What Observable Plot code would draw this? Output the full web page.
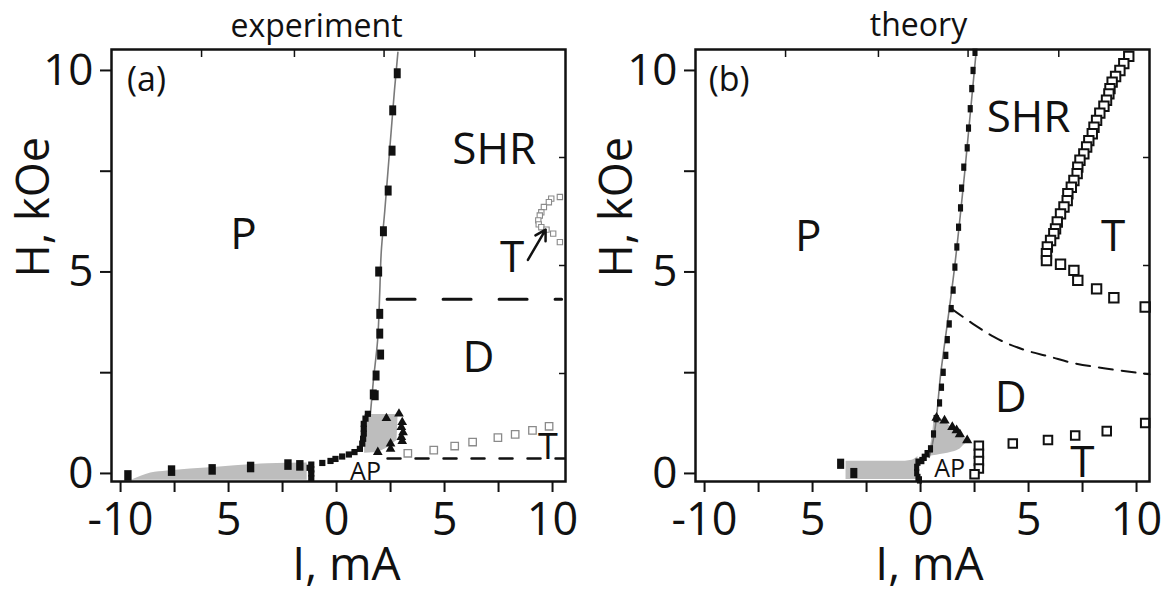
<!DOCTYPE html>
<html><head><meta charset="utf-8">
<script src="https://cdn.jsdelivr.net/npm/d3@7"></script>
<script src="https://cdn.jsdelivr.net/npm/@observablehq/plot@0.6"></script>
<style>
html,body{margin:0;padding:0;background:#fff;}
#wrap{position:relative;width:1167px;height:591px;overflow:hidden;background:#fff;}
#pa{position:absolute;left:0;top:0;}
#pb{position:absolute;left:584px;top:0;}
</style></head>
<body><div id="wrap"><div id="pa"></div><div id="pb"></div></div>
<script>
// ---------- axis ticks ----------
const xTickValues = [-10, -7.5, -5, -2.5, 0, 2.5, 5, 7.5, 10];
const xTickLabels = ["-10", "", "5", "", "0", "", "5", "", "10"];
const yTickValues = [0, 2.5, 5, 7.5, 10];
const yTickLabels = ["0", "", "5", "", "10"];
const topTickValues = [-6.25, -1.95, 2.2, 6.4];
const rightTickValues = [2.48, 5.16, 7.84];
const titles = ["experiment", "theory"];
const xLabel = "I, mA";
const yLabel = "H, kOe";

// ---------- panel (a): experiment ----------
const aLineI = [1.56, 1.70, 1.90, 2.00, 2.07, 2.23, 2.38, 2.53, 2.68, 2.84];
const aLineH = [1.44, 2.28, 3.30, 4.50, 5.50, 6.50, 7.50, 8.50, 9.50, 10.45];
const aSqI = [2.81, 2.60, 2.57, 2.39, 2.17, 1.95, 2.00, 2.00, 2.04, 1.83, 1.79, 1.70];
const aSqH = [9.93, 9.01, 8.01, 7.02, 6.01, 5.01, 3.96, 3.47, 2.95, 2.43, 1.94, 1.96];
const aSmallSqI = [1.45, 1.34, 1.26, 1.26, 1.26, 1.23, 1.19, 1.08, 0.83, 0.57, 0.26, -0.05, -0.28, -0.66, -1.17, -1.17, -1.17, -1.17, -1.25];
const aSmallSqH = [1.48, 1.36, 1.23, 1.11, 0.99, 0.86, 0.74, 0.61, 0.53, 0.47, 0.42, 0.36, 0.31, 0.26, 0.22, 0.10, 0.00, -0.12, 0.14];
const aBigSqI = [-9.66, -7.64, -5.76, -3.98, -2.25, -1.70];
const aBigSqH = [-0.05, 0.07, 0.10, 0.16, 0.22, 0.20];
const aTriI = [2.31, 2.89, 3.04, 3.00, 3.08, 3.00, 3.04, 2.50, 2.50, 1.91];
const aTriH = [1.37, 1.48, 1.27, 1.15, 1.02, 0.90, 0.80, 0.74, 0.61, 0.53];
const aOpenLowI = [3.30, 4.50, 5.47, 6.30, 7.47, 8.27, 9.07, 9.84];
const aOpenLowH = [0.50, 0.58, 0.68, 0.78, 0.89, 0.97, 1.07, 1.17];
const aOpenUpI = [10.34, 9.94, 9.83, 9.60, 9.48, 9.41, 9.34, 9.36, 9.48, 9.72, 10.03, 10.34];
const aOpenUpH = [6.86, 6.82, 6.73, 6.61, 6.48, 6.40, 6.28, 6.18, 6.11, 6.05, 5.95, 5.74];
const aBandI = [-9.50, -8.60, -7.84, -5.69, -3.20, -1.36];
const aBandLow = [-0.17, -0.17, -0.17, -0.17, -0.17, -0.17];
const aBandHigh = [-0.17, 0.01, 0.06, 0.15, 0.24, 0.26];
const aPatchI = [1.30, 1.90, 2.30, 2.80, 2.85];
const aPatchLow = [0.50, 0.52, 0.62, 0.82, 1.46];
const aPatchHigh = [1.46, 1.46, 1.46, 1.46, 1.46];
const aDashUpI = [2.34, 10.42];
const aDashUpH = [4.32, 4.32];
const aDashLowI = [2.36, 10.55];
const aDashLowH = [0.37, 0.37];
const aArrowI = [8.86, 9.68];
const aArrowH = [5.30, 6.05];
const aLabels = ["SHR", "P", "T", "D"];
const aLabelI = [7.30, -4.31, 8.13, 6.57];
const aLabelH = [7.68, 5.58, 5.00, 2.51];
const aTag = "(a)"; const aTagI = -9.70; const aTagH = 9.50;
const aAP = "AP"; const aAPI = 1.34; const aAPH = -0.17;
const aTLow = "T"; const aTLowI = 9.79; const aTLowH = 0.37;

// ---------- panel (b): theory ----------
const bLineI = [0.40, 0.50, 0.95, 1.55, 2.05, 2.58];
const bLineH = [0.40, 0.61, 2.55, 5.00, 7.50, 10.50];
const bSqI = [2.52, 2.43, 2.37, 2.30, 2.22, 2.16, 2.00, 1.90, 1.85, 1.76, 1.68, 1.59, 1.51, 1.42, 1.33, 1.24, 1.17, 1.05, 0.97, 0.88, 0.72, 0.60, 0.46, 0.30, 0.17, 0.06, -0.12, -0.18, -0.18, -0.12, -0.05];
const bSqH = [10.45, 10.00, 9.55, 9.05, 8.57, 8.08, 7.60, 7.08, 6.59, 6.11, 5.62, 5.12, 4.55, 4.09, 3.71, 3.32, 2.93, 2.51, 2.14, 1.75, 1.36, 0.98, 0.61, 0.49, 0.40, 0.32, 0.28, 0.15, 0.02, -0.10, -0.16];
const bBigSqI = [-3.70, -3.09];
const bBigSqH = [0.24, 0.01];
const bTriI = [0.74, 1.11, 1.47, 1.67, 1.82, 2.16];
const bTriH = [1.38, 1.31, 1.15, 1.07, 0.97, 0.82];
const bOpenUpI = [9.64, 9.41, 9.23, 9.03, 8.87, 8.77, 8.72, 8.61, 8.49, 8.30, 8.15, 8.03, 7.95, 7.79, 7.69, 7.56, 7.38, 7.28, 7.25, 7.10, 6.98, 6.82, 6.79, 6.64, 6.48, 6.33, 6.25, 6.17, 6.02, 5.87, 5.83, 5.83, 6.48, 7.10, 7.28, 8.15, 8.95, 10.40];
const bOpenUpH = [10.35, 10.17, 10.00, 9.85, 9.71, 9.55, 9.42, 9.26, 9.11, 8.94, 8.76, 8.59, 8.43, 8.26, 8.10, 7.93, 7.77, 7.60, 7.44, 7.27, 7.10, 6.94, 6.77, 6.61, 6.44, 6.24, 6.07, 5.95, 5.78, 5.62, 5.45, 5.28, 5.19, 5.04, 4.79, 4.58, 4.36, 4.13];
const bOpenLowI = [2.70, 2.70, 2.70, 2.70, 2.50, 4.27, 5.90, 7.16, 8.62, 10.40];
const bOpenLowH = [0.69, 0.49, 0.31, 0.12, -0.02, 0.74, 0.83, 0.94, 1.05, 1.25];
const bBandI = [-3.45, -1.00, -0.40, -0.12];
const bBandLow = [-0.15, -0.15, -0.15, -0.15];
const bBandHigh = [0.30, 0.30, 0.33, 0.42];
const bPatchH = [0.42, 0.48, 0.57, 0.70, 0.78, 0.95, 1.10, 1.30, 1.45];
const bPatchLeft = [0.40, 0.42, 0.44, 0.47, 0.50, 0.54, 0.58, 0.62, 0.66];
const bPatchRight = [0.40, 1.06, 1.70, 2.00, 2.16, 1.85, 1.50, 1.10, 0.70];
const bDashI = [1.42, 2.55, 3.42, 4.90, 6.03, 6.90, 8.64, 10.60];
const bDashH = [4.09, 3.67, 3.38, 3.05, 2.89, 2.76, 2.60, 2.46];
const bLabels = ["SHR", "P", "T", "D", "T"];
const bLabelI = [5.00, -5.20, 8.91, 4.17, 7.49];
const bLabelH = [8.47, 5.53, 5.53, 1.52, -0.09];
const bTag = "(b)"; const bTagI = -9.81; const bTagH = 9.48;
const bAP = "AP"; const bAPI = 1.35; const bAPH = -0.09;

// ---------- rendering ----------
const FONT = "'Open Sans', 'Liberation Sans', sans-serif";
const GRAY = "#bdbdbd";
const INK = "#111";
const tallRect = {draw(ctx, size) { const s = Math.sqrt(size); const w = s * 0.8, h = s * 1.15; ctx.rect(-w / 2, -h / 2, w, h); }};
const fmt = (vals, labs) => { const m = new Map(vals.map((v, i) => [v, labs[i]])); return d => m.get(d) ?? ""; };
const seq = a => a.map((_, i) => i);

function common(o) {
  return [
    Plot.tickX(topTickValues, {x: d => d, insetBottom: 424, strokeWidth: 1.5, stroke: INK}),
    Plot.tickY(rightTickValues, {y: d => d, insetLeft: 448, strokeWidth: 1.5, stroke: INK}),
    Plot.frame({stroke: INK, strokeWidth: 2.5}),
    Plot.axisX(xTickValues, {anchor: "bottom", tickSize: 11, tickPadding: 11, strokeWidth: 2, stroke: INK, fill: INK, fontSize: 45, tickFormat: fmt(xTickValues, xTickLabels), label: null}),
    Plot.axisY(yTickValues, {anchor: "left", tickSize: 11, tickPadding: 7, strokeWidth: 2, stroke: INK, fill: INK, fontSize: 44, tickFormat: fmt(yTickValues, yTickLabels), label: null}),
    Plot.text([o.title], {text: d => d, frameAnchor: "top", dx: o.titleDx, dy: o.titleDy, lineAnchor: "bottom", fontSize: 32, fill: INK}),
    Plot.text([xLabel], {text: d => d, frameAnchor: "bottom", dx: o.xlDx, dy: 98, lineAnchor: "bottom", fontSize: 46, fill: INK}),
    Plot.text([yLabel], {text: d => d, frameAnchor: "left", dx: o.ylDx, dy: 12, rotate: -90, lineAnchor: "bottom", fontSize: 45, fill: INK})
  ];
}

function make(o, marks) {
  return Plot.plot({
    width: o.width, height: 591,
    marginLeft: 111, marginRight: o.mr, marginTop: 49, marginBottom: 110,
    x: {domain: [-10.42, 10.6]},
    y: {domain: [-0.2, 10.52]},
    style: {fontFamily: FONT, fontSize: "44px", color: INK, background: "white", overflow: "visible"},
    marks: [...marks, ...common(o)]
  });
}

const panelA = make({width: 584, mr: 19, title: titles[0], titleDx: -22, titleDy: -13, xlDx: 8, ylDx: -63}, [
  Plot.areaY(aBandI, {x: aBandI, y1: aBandLow, y2: aBandHigh, fill: GRAY, curve: "monotone-x"}),
  Plot.areaY(aPatchI, {x: aPatchI, y1: aPatchLow, y2: aPatchHigh, fill: GRAY}),
  Plot.line(aLineI, {x: aLineI, y: aLineH, stroke: "#7a7a7a", strokeWidth: 1.6, curve: "monotone-y"}),
  Plot.line(aDashUpI, {x: aDashUpI, y: aDashUpH, stroke: INK, strokeWidth: 3, strokeDasharray: "28,28"}),
  Plot.line(aDashLowI, {x: aDashLowI, y: aDashLowH, stroke: INK, strokeWidth: 2.5, strokeDasharray: "13,15"}),
  Plot.dot(aOpenLowI, {x: aOpenLowI, y: aOpenLowH, symbol: "square", r: 4.2, stroke: "#8a8a8a", fill: "white", strokeWidth: 1.3}),
  Plot.dot(aOpenUpI, {x: aOpenUpI, y: aOpenUpH, symbol: "square", r: 3, stroke: "#8a8a8a", fill: "white", strokeWidth: 1.1}),
  Plot.dot(aSqI, {x: aSqI, y: aSqH, symbol: tallRect, r: 4.9, fill: INK, stroke: "none"}),
  Plot.dot(aSmallSqI, {x: aSmallSqI, y: aSmallSqH, symbol: "square", r: 3.5, fill: INK, stroke: "none"}),
  Plot.dot(aBigSqI, {x: aBigSqI, y: aBigSqH, symbol: tallRect, r: 5.2, fill: INK, stroke: "none"}),
  Plot.dot(aTriI, {x: aTriI, y: aTriH, symbol: "triangle", r: 3.6, fill: INK, stroke: "none"}),
  Plot.arrow([0], {x1: [aArrowI[0]], y1: [aArrowH[0]], x2: [aArrowI[1]], y2: [aArrowH[1]], stroke: INK, strokeWidth: 2.5, headLength: 12, inset: 0}),
  Plot.text(seq(aLabels), {x: i => aLabelI[i], y: i => aLabelH[i], text: i => aLabels[i], fontSize: 44, lineAnchor: "bottom", fill: INK}),
  Plot.text([aTag], {x: [aTagI], y: [aTagH], text: d => d, textAnchor: "start", fontSize: 34, lineAnchor: "bottom", fill: INK}),
  Plot.text([aAP], {x: [aAPI], y: [aAPH], text: d => d, fontSize: 25, lineAnchor: "bottom", fill: INK}),
  Plot.text([aTLow], {x: [aTLowI], y: [aTLowH], text: d => d, fontSize: 36, lineAnchor: "bottom", fill: INK})
]);

const panelB = make({width: 583, mr: 18, title: titles[1], titleDx: -4, titleDy: -14, xlDx: 7, ylDx: -64}, [
  Plot.areaY(bBandI, {x: bBandI, y1: bBandLow, y2: bBandHigh, fill: GRAY, curve: "monotone-x"}),
  Plot.areaX(bPatchH, {y: bPatchH, x1: bPatchLeft, x2: bPatchRight, fill: GRAY, curve: "monotone-y"}),
  Plot.line(bLineI, {x: bLineI, y: bLineH, stroke: "#7a7a7a", strokeWidth: 1.6, curve: "monotone-y"}),
  Plot.line(bDashI, {x: bDashI, y: bDashH, stroke: INK, strokeWidth: 2, strokeDasharray: "14,9", curve: "monotone-x"}),
  Plot.dot(bOpenUpI, {x: bOpenUpI, y: bOpenUpH, symbol: "square", r: 5.3, stroke: INK, fill: "white", strokeWidth: 2}),
  Plot.dot(bOpenLowI, {x: bOpenLowI, y: bOpenLowH, symbol: "square", r: 4.8, stroke: INK, fill: "white", strokeWidth: 2}),
  Plot.dot(bSqI, {x: bSqI, y: bSqH, symbol: tallRect, r: 3.6, fill: INK, stroke: "none"}),
  Plot.dot(bBigSqI, {x: bBigSqI, y: bBigSqH, symbol: tallRect, r: 5, fill: INK, stroke: "none"}),
  Plot.dot(bTriI, {x: bTriI, y: bTriH, symbol: "triangle", r: 3.8, fill: INK, stroke: "none"}),
  Plot.text(seq(bLabels), {x: i => bLabelI[i], y: i => bLabelH[i], text: i => bLabels[i], fontSize: 44, lineAnchor: "bottom", fill: INK}),
  Plot.text([bTag], {x: [bTagI], y: [bTagH], text: d => d, textAnchor: "start", fontSize: 34, lineAnchor: "bottom", fill: INK}),
  Plot.text([bAP], {x: [bAPI], y: [bAPH], text: d => d, fontSize: 25, lineAnchor: "bottom", fill: INK})
]);

document.getElementById("pa").appendChild(panelA);
document.getElementById("pb").appendChild(panelB);
</script>
</body></html>
